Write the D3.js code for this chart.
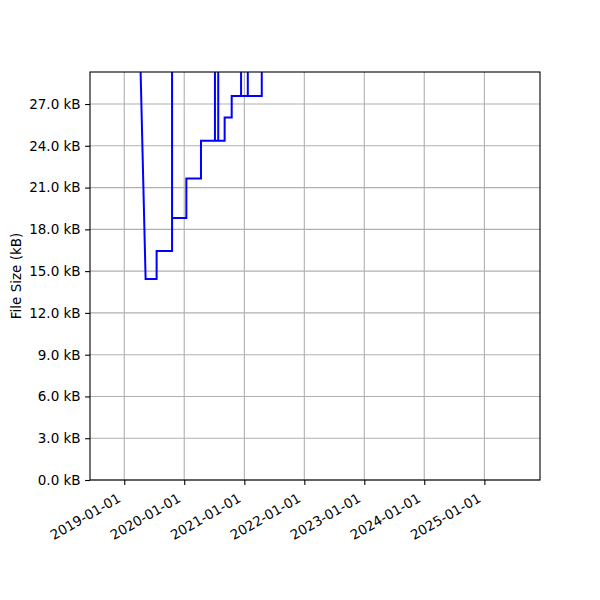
<!DOCTYPE html>
<html>
<head>
<meta charset="utf-8">
<script src="https://cdn.jsdelivr.net/npm/d3@7"></script>
<style>
  html, body { margin: 0; padding: 0; background: #fff; }
  text { font-family: "DejaVu Sans", sans-serif; }
</style>
</head>
<body>
<svg id="chart" width="600" height="600"></svg>
<script>
// ---- data ----
const dates = [
  "2018-10-09", "2019-05-11", "2019-07-17", "2019-07-17", "2019-10-19",
  "2019-10-19", "2019-10-19", "2020-01-14", "2020-01-14", "2020-04-12",
  "2020-04-12", "2020-07-06", "2020-07-06", "2020-07-06", "2020-07-26",
  "2020-07-26", "2020-07-26", "2020-09-03", "2020-09-03", "2020-10-16",
  "2020-10-16", "2020-12-12", "2020-12-12", "2020-12-12", "2021-01-22",
  "2021-01-22", "2021-01-22", "2021-04-17", "2021-04-17", "2025-08-03"
];
const sizesKB = [
  119.0, 14.43, 14.43, 16.44, 16.44,
  40.0, 18.81, 18.81, 21.66, 21.66,
  24.36, 24.36, 40.0, 24.36, 24.36,
  40.0, 24.36, 24.36, 26.04, 26.04,
  27.57, 27.57, 40.0, 27.57, 27.57,
  40.0, 27.57, 27.57, 40.0, 45.0
];
const yTickValues = [0, 3, 6, 9, 12, 15, 18, 21, 24, 27];
const xTickYears = ["2019-01-01", "2020-01-01", "2021-01-01", "2022-01-01", "2023-01-01", "2024-01-01", "2025-01-01"];
const yMaxKB = 29.3;
const yLabel = "File Size (kB)";

// ---- layout ----
const margin = { left: 90, right: 60, top: 72, bottom: 120 };
const W = 600, H = 600;
const parse = d3.utcParse("%Y-%m-%d");
const points = dates.map((d, i) => ({ t: parse(d), v: sizesKB[i] }));

const svg = d3.select("#chart");
const x0 = margin.left, x1 = W - margin.right, y0 = H - margin.bottom, y1 = margin.top;

// matplotlib-like 5% padding on x
const ext = d3.extent(points, d => d.t);
const pad = (ext[1] - ext[0]) * 0.05;
const x = d3.scaleUtc().domain([new Date(+ext[0] - pad), new Date(+ext[1] + pad)]).range([x0, x1]);
const y = d3.scaleLinear().domain([0, yMaxKB]).range([y0, y1]);

const fontSize = 13.5;
const gridColor = "#b0b0b0";

// grid
const xTicks = xTickYears.map(parse);
svg.append("g").selectAll("line").data(xTicks).join("line")
  .attr("x1", d => x(d)).attr("x2", d => x(d))
  .attr("y1", y0).attr("y2", y1)
  .attr("stroke", gridColor).attr("stroke-width", 1.1);
svg.append("g").selectAll("line").data(yTickValues).join("line")
  .attr("x1", x0).attr("x2", x1)
  .attr("y1", d => y(d)).attr("y2", d => y(d))
  .attr("stroke", gridColor).attr("stroke-width", 1.1);

// line
svg.append("clipPath").attr("id", "clip").append("rect")
  .attr("x", x0).attr("y", y1).attr("width", x1 - x0).attr("height", y0 - y1);
const line = d3.line().x(d => x(d.t)).y(d => y(d.v));
svg.append("path").datum(points)
  .attr("clip-path", "url(#clip)")
  .attr("d", line)
  .attr("fill", "none")
  .attr("stroke", "#0000ff")
  .attr("stroke-width", 2)
  .attr("stroke-linejoin", "miter");

// y axis
const yAxis = d3.axisLeft(y).tickValues(yTickValues)
  .tickFormat(d => d3.format(".1f")(d) + " kB")
  .tickSize(4.9).tickPadding(4.5);
const gy = svg.append("g").attr("transform", `translate(${x0},0)`).call(yAxis);
gy.select(".domain").remove();
gy.selectAll(".tick line").attr("stroke", "#000").attr("stroke-width", 1.1);
gy.selectAll(".tick text").attr("font-size", fontSize).attr("fill", "#000")
  .attr("font-family", "DejaVu Sans, sans-serif");

// x axis
const xAxis = d3.axisBottom(x).tickValues(xTicks)
  .tickFormat(d3.utcFormat("%Y-%m-%d"))
  .tickSize(4.9).tickPadding(4.5);
const gx = svg.append("g").attr("transform", `translate(0,${y0})`).call(xAxis);
gx.select(".domain").remove();
gx.selectAll(".tick line").attr("stroke", "#000").attr("stroke-width", 1.1);
gx.selectAll(".tick text")
  .attr("font-size", fontSize).attr("fill", "#000")
  .attr("font-family", "DejaVu Sans, sans-serif")
  .attr("text-anchor", "end")
  .attr("dy", null)
  .attr("y", null)
  .attr("transform", "translate(-3,21) rotate(-30)");

// spines
svg.append("rect").attr("x", x0).attr("y", y1)
  .attr("width", x1 - x0).attr("height", y0 - y1)
  .attr("fill", "none").attr("stroke", "#000").attr("stroke-width", 1.1);

// y label
svg.append("text")
  .attr("transform", `translate(21,${(y0 + y1) / 2}) rotate(-90)`)
  .attr("text-anchor", "middle")
  .attr("font-size", fontSize)
  .attr("fill", "#000")
  .text(yLabel);
</script>
</body>
</html>
